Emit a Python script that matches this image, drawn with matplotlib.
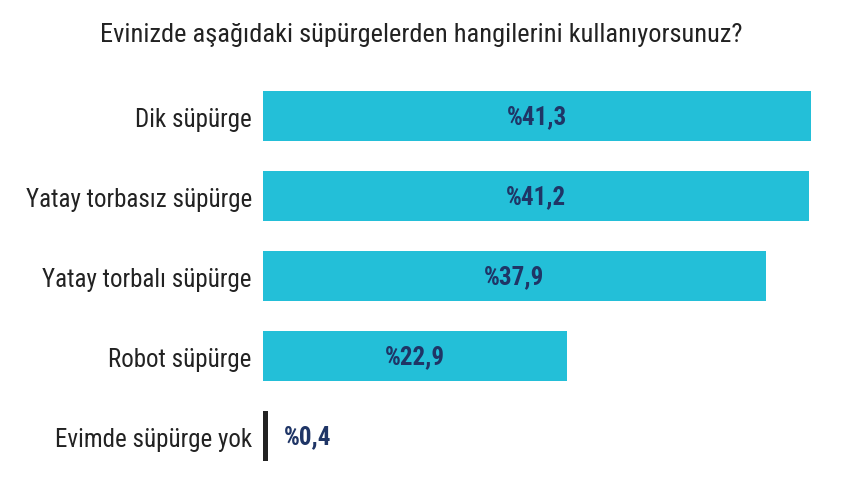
import matplotlib.pyplot as plt
from matplotlib import font_manager

kategoriler = ['Dik süpürge', 'Yatay torbasız süpürge', 'Yatay torbalı süpürge',
               'Robot süpürge', 'Evimde süpürge yok']
degerler = [41.3, 41.2, 37.9, 22.9, 0.4]
etiketler = ['%41,3', '%41,2', '%37,9', '%22,9', '%0,4']

adlar = {f.name for f in font_manager.fontManager.ttflist}
yazi, boy = 'DejaVu Sans', 15
for ad in ['Roboto Condensed', 'Liberation Sans Narrow', 'Open Sans Condensed']:
    if ad in adlar:
        yazi, boy = ad, 18
        break
plt.rcParams['font.family'] = [yazi, 'DejaVu Sans']

fig = plt.figure(figsize=(8.65, 4.89), dpi=100)
ax = fig.add_axes([0.304, 1 - 477 / 489, 0.69, 400 / 489])

renkler = ['#23BFD8'] * 4 + ['#222222']
ax.barh(range(len(degerler)), degerler, height=0.63, color=renkler)

for i, (v, e) in enumerate(zip(degerler, etiketler)):
    if v > 5:
        ax.text(v / 2, i, e, ha='center', va='center', fontsize=boy,
                fontweight='bold', color='#1F3566')
    else:
        ax.text(1.6, i, e, ha='left', va='center', fontsize=boy,
                fontweight='bold', color='#1F3566')

ax.set_yticks(range(len(kategoriler)))
ax.set_yticklabels(kategoriler, fontsize=boy, color='#222222')
ax.tick_params(axis='y', length=0, pad=8)
ax.set_xticks([])
ax.set_xlim(0, 45)
ax.set_ylim(4.5, -0.5)
for s in ax.spines.values():
    s.set_visible(False)

fig.text(0.487, 0.928, 'Evinizde aşağıdaki süpürgelerden hangilerini kullanıyorsunuz?',
         ha='center', va='center', fontsize=boy + 1, color='#222222')

fig.savefig('out.png', dpi=100)
